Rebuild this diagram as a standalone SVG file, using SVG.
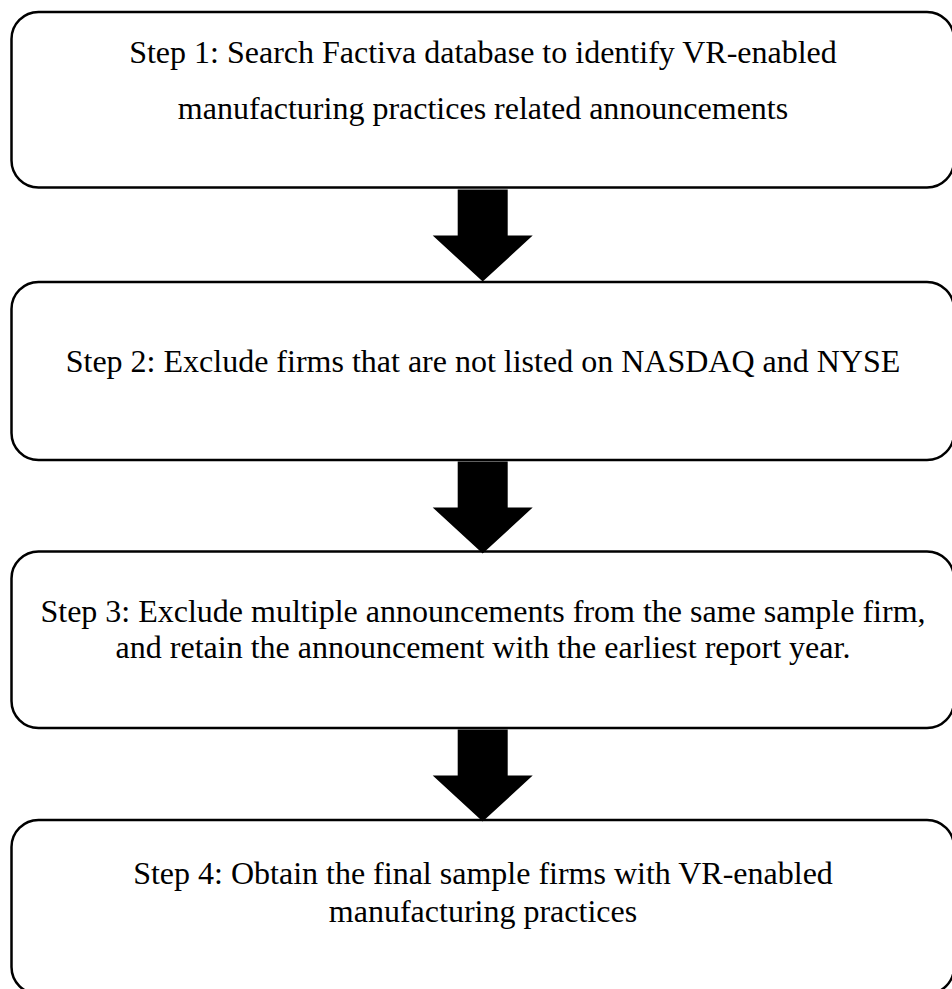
<svg xmlns="http://www.w3.org/2000/svg" width="952" height="989" viewBox="0 0 952 989">
  <style>
    .box { fill: #ffffff; stroke: #000000; stroke-width: 2.5; }
    .label { font-family: "Liberation Serif", "Times New Roman", serif; font-size: 32px; fill: #000000; text-anchor: middle; }
    .arrow { fill: #000000; stroke: none; }
  </style>
  <defs>
    <!-- block arrow pointing down, origin at the horizontal centre of the shaft top -->
    <path id="downArrow" d="M -25 0 H 25 V 46 H 50 L 0 92 L -50 46 H -25 Z"/>
  </defs>
  <rect width="952" height="989" fill="#ffffff"/>

  <g id="step1">
    <rect class="box" x="11.5" y="12" width="942.5" height="175.5" rx="27" ry="27"/>
    <text class="label" x="483" y="63">Step 1: Search Factiva database to identify VR-enabled</text>
    <text class="label" x="483" y="119">manufacturing practices related announcements</text>
  </g>

  <g id="step2">
    <rect class="box" x="11.5" y="282" width="942.5" height="178" rx="27" ry="27"/>
    <text class="label" x="483" y="372">Step 2: Exclude firms that are not listed on NASDAQ and NYSE</text>
  </g>

  <g id="step3">
    <rect class="box" x="11.5" y="551.5" width="942.5" height="176.5" rx="27" ry="27"/>
    <text class="label" x="483" y="622">Step 3: Exclude multiple announcements from the same sample firm,</text>
    <text class="label" x="483" y="658">and retain the announcement with the earliest report year.</text>
  </g>

  <g id="step4">
    <rect class="box" x="11.5" y="820" width="942.5" height="174" rx="27" ry="27"/>
    <text class="label" x="483" y="884">Step 4: Obtain the final sample firms with VR-enabled</text>
    <text class="label" x="483" y="922">manufacturing practices</text>
  </g>

  <g id="connectors">
    <use href="#downArrow" class="arrow" x="482.7" y="189.5"/>
    <use href="#downArrow" class="arrow" x="482.7" y="461.5"/>
    <use href="#downArrow" class="arrow" x="482.7" y="729.5"/>
  </g>
</svg>
